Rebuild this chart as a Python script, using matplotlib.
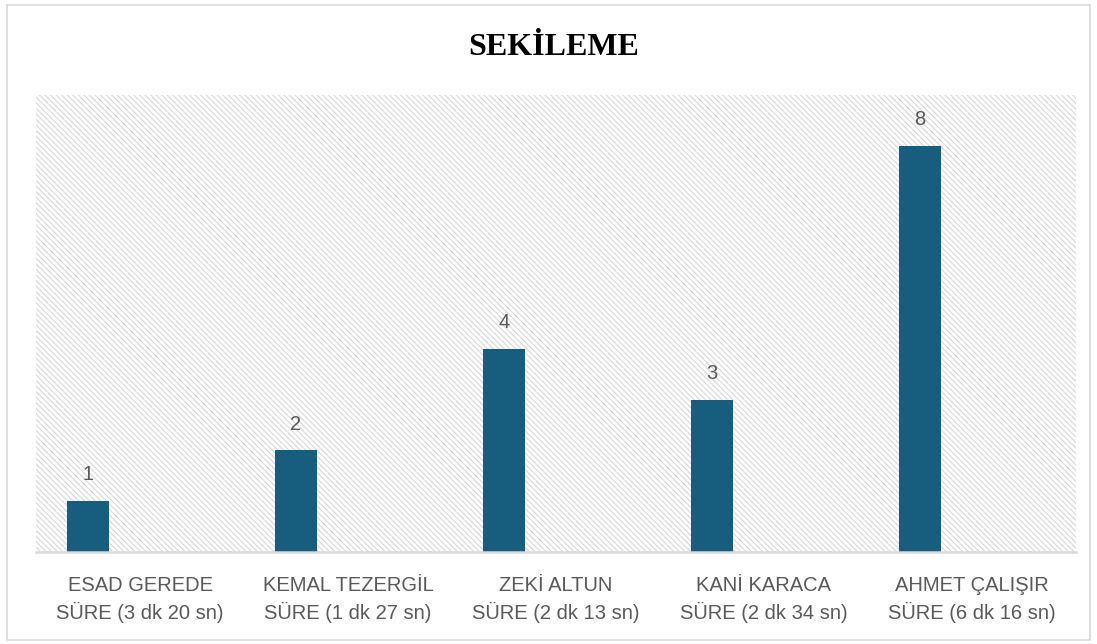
import matplotlib.pyplot as plt
from matplotlib.patches import Rectangle

names = ["ESAD GEREDE", "KEMAL TEZERGİL", "ZEKİ ALTUN", "KANİ KARACA", "AHMET ÇALIŞIR"]
durations = ["SÜRE (3 dk 20 sn)", "SÜRE (1 dk 27 sn)", "SÜRE (2 dk 13 sn)",
             "SÜRE (2 dk 34 sn)", "SÜRE (6 dk 16 sn)"]
values = [1, 2, 4, 3, 8]

bar_color = "#175e7e"
text_color = "#595959"

fig = plt.figure(figsize=(10.97, 6.44), dpi=100)
fig.patches.append(Rectangle((0.006, 0.006), 0.988, 0.987, transform=fig.transFigure,
                             fill=False, edgecolor="#d9d9d9", linewidth=1.2))

ax = fig.add_axes([36 / 1097, 92 / 644, 1040 / 1097, 457 / 644])

# hatched plot background
plt.rcParams["hatch.linewidth"] = 0.8
ax.add_patch(Rectangle((0, 0), 1, 1, transform=ax.transAxes, facecolor="white",
                       edgecolor="#d6d6d6", hatch="\\\\\\\\\\\\", linewidth=0, zorder=0))

x = list(range(len(values)))
bars = ax.bar([i - 0.25 for i in x], values, width=0.2, color=bar_color, zorder=2)
for b, v in zip(bars, values):
    ax.text(b.get_x() + b.get_width() / 2, v + 0.33, str(v), ha="center", va="bottom",
            fontsize=14.5, color=text_color, family="Liberation Sans")

ax.set_xlim(-0.5, len(values) - 0.5)
ax.set_ylim(0, 9)
ax.set_yticks([])
ax.set_xticks(x)
ax.set_xticklabels([n + "\n" + d for n, d in zip(names, durations)], fontsize=14.5,
                   color=text_color, family="Liberation Sans", linespacing=1.45)
ax.tick_params(axis="x", length=0, pad=17)
for s in ["top", "right", "left"]:
    ax.spines[s].set_visible(False)
ax.spines["bottom"].set_color("#d9d9d9")
ax.spines["bottom"].set_linewidth(1.8)
ax.spines["bottom"].set_zorder(3)

fig.text(0.505, 0.927, "SEKİLEME", ha="center", va="center", fontsize=23,
         fontweight="bold", family="Liberation Serif", color="black")

fig.savefig("out.png", dpi=100)
